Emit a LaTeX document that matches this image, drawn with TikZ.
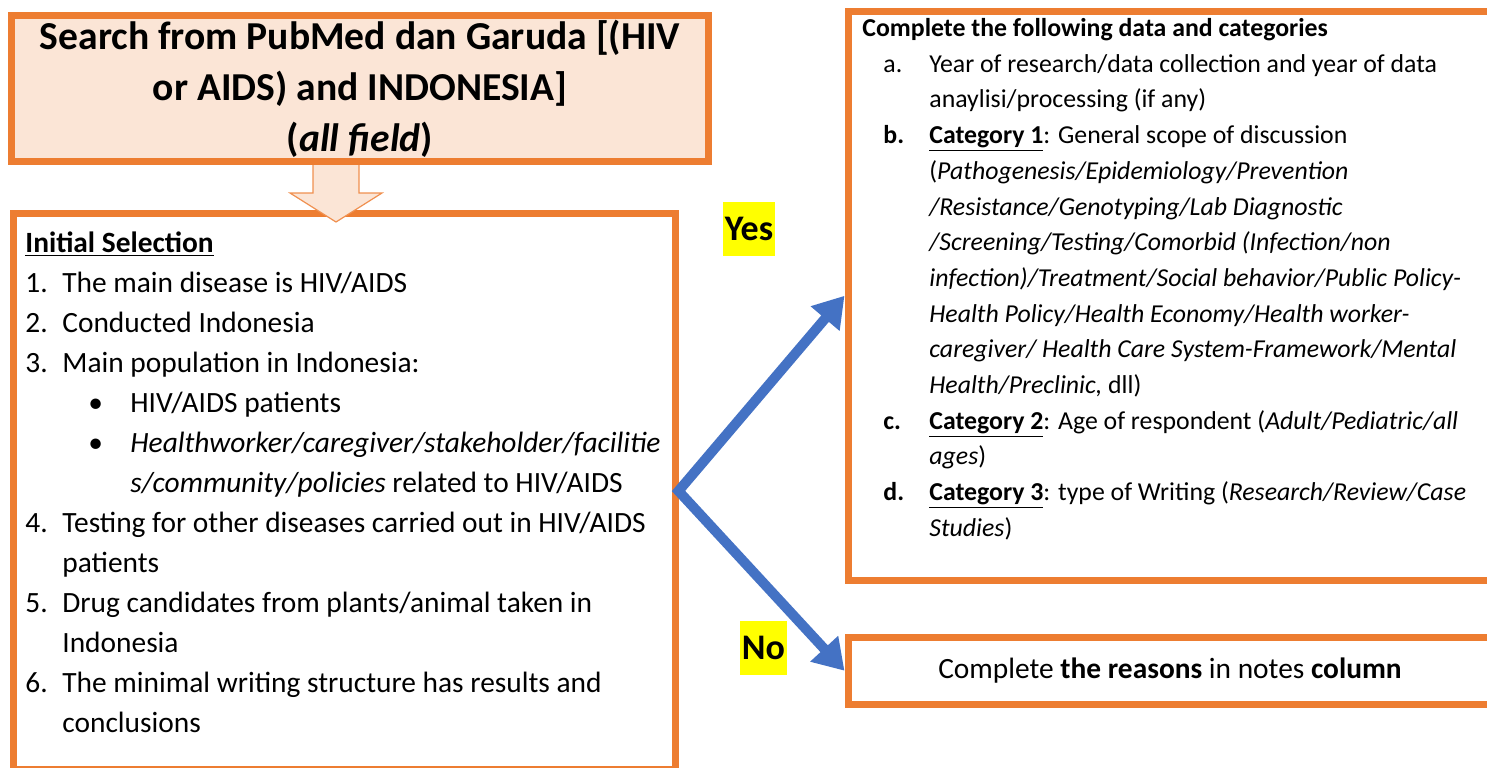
\documentclass[tikz,border=0pt]{standalone}
\usepackage{fontspec}
\setmainfont{Carlito}
\usepackage{xcolor}
\usepackage{tikz}
\usetikzlibrary{calc,arrows.meta,positioning}
\definecolor{accOrange}{RGB}{237,125,49}
\definecolor{accPeach}{RGB}{251,229,214}
\definecolor{accBlue}{RGB}{68,114,196}
\definecolor{markYellow}{RGB}{255,255,0}

% list helpers: number/bullet/letter columns and hanging lines
\newcommand{\numitem}[1]{\makebox[18.5pt][l]{#1}}
\newcommand{\numcont}{\hspace*{18.5pt}}
\newcommand{\bulitem}{\hspace*{31.5pt}\makebox[21pt][l]{\textbullet}}
\newcommand{\bulcont}{\hspace*{52.5pt}}
\newcommand{\catitem}[1]{\hspace*{10.5pt}\makebox[23pt][l]{#1}}
\newcommand{\catcont}{\hspace*{33.5pt}}

\begin{document}
\begin{tikzpicture}[x=0.5pt,y=-0.5pt,
  box/.style={draw=accOrange, line width=3.5pt, rectangle, inner sep=0pt},
  listtext/.style={anchor=north west, align=left, inner sep=0pt},
  hollow/.style={draw=accOrange!85, fill=accPeach, line width=0.6pt, line join=miter},
  flow/.style={accBlue, line width=5pt, line join=miter,
    {Triangle[length=15pt,width=18pt]}-{Triangle[length=15pt,width=18pt]}},
  tag/.style={fill=markYellow, inner xsep=1pt, inner ysep=0pt, minimum height=27pt,
    font={\fontsize{18pt}{20pt}\selectfont\bfseries}}]
\useasboundingbox (0,0) rectangle (1487,767);
\clip (0,0) rectangle (1487,767);

% search query
\node[box, fill=accPeach, minimum width=348.5pt, minimum height=73pt, align=center,
  font={\fontsize{19.8pt}{25.5pt}\selectfont\bfseries}] (search) at (360,88.5)
  {Search from PubMed dan Garuda [(HIV\\or AIDS) and INDONESIA]\\(\textit{all field})};

% initial selection
\node[box, minimum width=331pt, minimum height=278pt] (sel) at (344,491) {};
\node[listtext, font={\fontsize{14.7pt}{20pt}\selectfont}] (selText) at (25,231)
  {\underline{\textbf{Initial Selection}}\\
   \numitem{1.}The main disease is HIV/AIDS\\
   \numitem{2.}Conducted Indonesia\\
   \numitem{3.}Main population in Indonesia:\\
   \bulitem HIV/AIDS patients\\
   \bulitem\textit{Healthworker/caregiver/stakeholder/facilitie}\\
   \bulcont\textit{s/community/policies} related to HIV/AIDS\\
   \numitem{4.}Testing for other diseases carried out in HIV/AIDS\\
   \numcont patients\\
   \numitem{5.}Drug candidates from plants/animal taken in\\
   \numcont Indonesia\\
   \numitem{6.}The minimal writing structure has results and\\
   \numcont conclusions};

% data and categories (boxes run off the right edge)
\node[box, minimum width=400pt, minimum height=284.25pt] (catbox) at (1248,295.75) {};
\node[listtext, font={\fontsize{12.9pt}{17.85pt}\selectfont}] (catText) at (862,18)
  {\textbf{Complete the following data and categories}\\
   \catitem{a.}Year of research/data collection and year of data\\
   \catcont anaylisi/processing (if any)\\
   \catitem{\textbf{b.}}\textbf{\underline{Category 1}}: General scope of discussion\\
   \catcont(\textit{Pathogenesis/Epidemiology/Prevention}\\
   \catcont\textit{/Resistance/Genotyping/Lab Diagnostic}\\
   \catcont\textit{/Screening/Testing/Comorbid (Infection/non}\\
   \catcont\textit{infection)/Treatment/Social behavior/Public Policy-}\\
   \catcont\textit{Health Policy/Health Economy/Health worker-}\\
   \catcont\textit{caregiver/ Health Care System-Framework/Mental}\\
   \catcont\textit{Health/Preclinic,} dll)\\
   \catitem{\textbf{c.}}\textbf{\underline{Category 2}}: Age of respondent (\textit{Adult/Pediatric/all}\\
   \catcont\textit{ages})\\
   \catitem{\textbf{d.}}\textbf{\underline{Category 3}}: type of Writing (\textit{Research/Review/Case}\\
   \catcont\textit{Studies})};

% rejected
\node[box, minimum width=400pt, minimum height=33.25pt] (notes) at (1248,670.75) {};
\node[font={\fontsize{14.7pt}{20pt}\selectfont}] (notesText) at (1170,670.75)
  {Complete \textbf{the reasons} in notes \textbf{column}};

% hollow down arrow
\draw[hollow] (search.south) ++(-47,0) -- ++(0,28) -- ++(-23,0) -- ++(46,29)
  -- ++(46,-29) -- ++(-23,0) -- ++(0,-28);

% yes / no branches
\draw[flow] (catbox.west) -- (sel.east) -- (notes.west);
\node[tag] (yes) at (749,229) {Yes};
\node[tag] (no) at (763.5,648) {No};
\end{tikzpicture}
\end{document}
